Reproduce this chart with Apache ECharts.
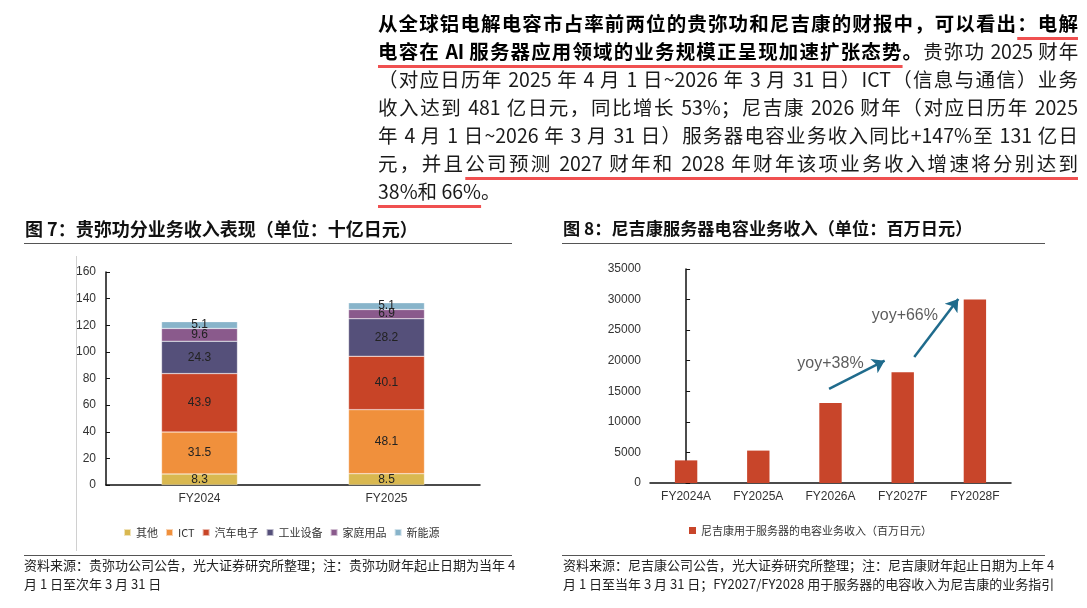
<!DOCTYPE html>
<html>
<head>
<meta charset="utf-8">
<script src="https://cdn.jsdelivr.net/npm/echarts@6/dist/echarts.min.js"></script>
<style>
  body { margin:0; width:1087px; height:608px; background:#fff; position:relative; overflow:hidden;
         font-family:"Noto Sans CJK SC", sans-serif; }
  #main { position:absolute; left:0; top:0; width:1087px; height:608px; }
  .para { position:absolute; left:378px; top:9px; width:700px; font-size:19.5px; line-height:28px; color:#1a1a1a; }
  .para div { white-space:nowrap; text-align:justify; text-align-last:justify; }
  .para div.tight { letter-spacing:-0.3px; }
  .para div.last { text-align-last:left; }
  .para b { font-weight:700; color:#000; }
  .ul { text-decoration:underline; text-decoration-color:#f05050; text-decoration-thickness:3px;
        text-underline-offset:6px; text-decoration-skip-ink:none; }
  .title { position:absolute; top:216px; font-weight:700; color:#111; line-height:24px; white-space:nowrap; }
  .hr { position:absolute; height:0; border-top:1.5px solid #555; }
  .note { position:absolute; top:556px; font-size:13px; line-height:18.5px; color:#222; white-space:nowrap; }
  .vline { position:absolute; left:76px; top:256px; height:295px; border-left:1px solid #d0d0d0; }
</style>
</head>
<body>
<div id="main"></div>

<div class="para">
  <div><b>从全球铝电解电容市占率前两位的贵弥功和尼吉康的财报中，可以看出<span class="ul">：电解</span></b></div>
  <div class="tight"><b><span class="ul">电容在 AI 服务器应用领域的业务规模正呈现加速扩张态势</span>。</b>贵弥功 2025 财年</div>
  <div>（对应日历年 2025 年 4 月 1 日~2026 年 3 月 31 日）ICT（信息与通信）业务</div>
  <div>收入达到 481 亿日元，同比增长 53%；尼吉康 2026 财年（对应日历年 2025</div>
  <div>年 4 月 1 日~2026 年 3 月 31 日）服务器电容业务收入同比+147%至 131 亿日</div>
  <div>元，并且<span class="ul">公司预测 2027 财年和 2028 年财年该项业务收入增速将分别达到</span></div>
  <div class="last"><span class="ul">38%和 66%</span>。</div>
</div>

<div class="title" style="left:25px;font-size:18px">图 7：贵弥功分业务收入表现（单位：十亿日元）</div>
<div class="title" style="left:563px;font-size:17.2px">图 8：尼吉康服务器电容业务收入（单位：百万日元）</div>
<div class="hr" style="left:24px;top:243px;width:488px"></div>
<div class="hr" style="left:562px;top:243px;width:483px"></div>
<div class="vline"></div>
<div class="hr" style="left:24px;top:555px;width:488px"></div>
<div class="hr" style="left:562px;top:555px;width:483px"></div>
<div class="note" style="left:24px">资料来源：贵弥功公司公告，光大证券研究所整理；注：贵弥功财年起止日期为当年 4<br>月 1 日至次年 3 月 31 日</div>
<div class="note" style="left:563px">资料来源：尼吉康公司公告，光大证券研究所整理；注：尼吉康财年起止日期为上年 4<br>月 1 日至当年 3 月 31 日；FY2027/FY2028 用于服务器的电容收入为尼吉康的业务指引</div>

<script>
// 图7 数据：贵弥功分业务收入（十亿日元）
const catsLeft = ['FY2024', 'FY2025'];
const segNames = ['其他', 'ICT', '汽车电子', '工业设备', '家庭用品', '新能源'];
const other = [8.3, 8.5];
const ict = [31.5, 48.1];
const autoElec = [43.9, 40.1];
const industrial = [24.3, 28.2];
const household = [9.6, 6.9];
const newEnergy = [5.1, 5.1];

// 图8 数据：尼吉康服务器电容业务收入（百万日元）
const catsRight = ['FY2024A', 'FY2025A', 'FY2026A', 'FY2027F', 'FY2028F'];
const serverCap = [3700, 5300, 13100, 18100, 30000];
const yoyTexts = ['yoy+38%', 'yoy+66%'];
// 箭头与标注的位置（类目序号, 数值）
const arrowCoords = [
  [[1.98, 15400], [2.75, 20000]],
  [[3.16, 20600], [3.77, 30100]]
];
const yoyPos = [[2.0, 19500], [3.03, 27300]];

const segColors = ['#d9b850', '#f0903c', '#c84427', '#55507a', '#8a5a8c', '#88b4ca'];
const axisFont = { fontFamily: 'Liberation Sans, Arial, sans-serif', fontSize: 12, color: '#333' };

let myChart = echarts.init(document.getElementById('main'));

const segData = [other, ict, autoElec, industrial, household, newEnergy];

let option = {
  animation: false,
  textStyle: { fontFamily: 'Liberation Sans, Noto Sans CJK SC, sans-serif' },
  grid: [
    { left: 106, top: 272, width: 374, height: 213 },
    { left: 650, top: 269, width: 361, height: 214 }
  ],
  legend: [
    {
      data: segNames, left: 118, top: 522, itemWidth: 7, itemHeight: 7, itemGap: 7, icon: 'rect',
      textStyle: { fontSize: 11, color: '#333', fontFamily: 'Noto Sans CJK SC, Liberation Sans' }
    },
    {
      data: ['尼吉康用于服务器的电容业务收入（百万日元）'], left: 684, top: 520, itemWidth: 7, itemHeight: 7, icon: 'rect',
      textStyle: { fontSize: 11, color: '#333', fontFamily: 'Noto Sans CJK SC, Liberation Sans' }
    }
  ],
  xAxis: [
    {
      gridIndex: 0, type: 'category', data: catsLeft,
      axisLine: { lineStyle: { color: '#111', width: 1.5 } },
      axisTick: { inside: true, length: 4, lineStyle: { color: '#111' } },
      axisLabel: Object.assign({ margin: 8 }, axisFont)
    },
    {
      gridIndex: 1, type: 'category', data: catsRight,
      axisLine: { lineStyle: { color: '#111', width: 1.5 } },
      axisTick: { inside: true, length: 4, lineStyle: { color: '#111' } },
      axisLabel: Object.assign({ margin: 8 }, axisFont)
    },
    // 标注用的隐藏数值轴
    { gridIndex: 1, type: 'value', min: -0.5, max: 4.5, show: false }
  ],
  yAxis: [
    {
      gridIndex: 0, type: 'value', min: 0, max: 160, interval: 20,
      axisLine: { show: true, lineStyle: { color: '#111', width: 1.5 } },
      axisTick: { show: true, inside: true, length: 4, lineStyle: { color: '#111' } },
      splitLine: { show: false },
      axisLabel: Object.assign({ margin: 10 }, axisFont)
    },
    {
      gridIndex: 1, type: 'value', min: 0, max: 35000, interval: 5000,
      axisLine: { show: true, lineStyle: { color: '#111', width: 1.5 } },
      axisTick: { show: true, inside: true, length: 4, lineStyle: { color: '#111' } },
      splitLine: { show: false },
      axisLabel: Object.assign({ margin: 9, formatter: v => String(v) }, axisFont)
    }
  ],
  series: []
};

// 堆叠柱
segNames.forEach((name, i) => {
  option.series.push({
    name: name, type: 'bar', stack: 'total', xAxisIndex: 0, yAxisIndex: 0,
    data: segData[i], barWidth: '40.6%',
    itemStyle: { color: segColors[i], borderColor: 'rgba(255,255,255,0.6)', borderWidth: 0.5 },
    label: { show: true, position: 'inside', fontSize: 12, color: '#222',
             fontFamily: 'Liberation Sans, Arial, sans-serif' }
  });
});

option.series.push({
  name: '尼吉康用于服务器的电容业务收入（百万日元）', type: 'bar', xAxisIndex: 1, yAxisIndex: 1,
  data: serverCap, barWidth: '31%', itemStyle: { color: '#c8452a' }
});

option.series.push({
  type: 'lines', coordinateSystem: 'cartesian2d', xAxisIndex: 2, yAxisIndex: 1,
  symbol: ['none', 'arrow'], symbolSize: 12, silent: true, z: 5,
  lineStyle: { color: '#1f6b8c', width: 2.5, opacity: 1 },
  data: arrowCoords.map(c => ({ coords: c }))
});

option.series.push({
  type: 'scatter', xAxisIndex: 2, yAxisIndex: 1, symbolSize: 1, silent: true, z: 6,
  itemStyle: { color: 'transparent' },
  data: yoyPos.map((p, i) => [p[0], p[1], yoyTexts[i]]),
  label: { show: true, position: 'inside', formatter: p => p.value[2], fontSize: 16, color: '#333',
           fontFamily: 'Liberation Sans, Arial, sans-serif' }
});

myChart.setOption(option);
</script>
</body>
</html>
